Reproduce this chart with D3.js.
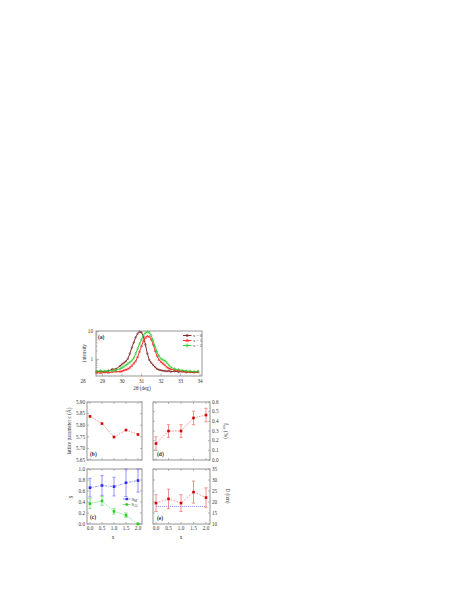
<!DOCTYPE html>
<html>
<head>
<meta charset="utf-8">
<script src="https://cdn.jsdelivr.net/npm/d3@7"></script>
<style>
  body { margin: 0; background: #fff; }
  text { font-family: "Liberation Serif", "DejaVu Serif", serif; fill: #333; }
</style>
</head>
<body>
<div id="viz_area"></div>
<script>
var width = 463
var height = 599

var svg = d3.select("#viz_area")
  .append("svg")
  .attr("width", width)
  .attr("height", height)
  .style("background-color", "white");

// ---- data ----
var twoTheta = [28.7, 28.9, 29.1, 29.3, 29.5, 29.7, 29.9,
  30.0, 30.1, 30.2, 30.3, 30.4, 30.5, 30.6, 30.7, 30.8, 30.9, 31.0, 31.1, 31.2,
  31.3, 31.4, 31.5, 31.6, 31.7, 31.8, 31.9, 32.0, 32.1, 32.2, 32.3, 32.4, 32.5,
  32.7, 32.9, 33.1, 33.3, 33.5, 33.7, 33.9]
var intX0 = [.36, .37, .36, .38, .44, .45, .58,
  .66, .75, .85, 1.05, 1.6, 2.6, 4.0, 6.2, 8.4, 9.9, 9.3, 6.6, 3.4,
  1.6, .95, .75, .62, .52, .45, .42, .40, .39, .38, .37, .38, .36,
  .37, .35, .36, .34, .35, .34, .35]
var intX1 = [.33, .32, .34, .33, .35, .36, .36,
  .37, .40, .42, .45, .50, .58, .70, .85, 1.2, 1.9, 3.0, 4.6, 6.0,
  6.8, 6.6, 5.2, 3.4, 2.0, 1.3, .95, .80, .70, .62, .52, .47, .44,
  .41, .39, .37, .36, .35, .34, .35]
var intX2 = [.37, .38, .37, .39, .38, .41, .46,
  .50, .55, .62, .70, .78, .88, 1.1, 1.6, 2.4, 3.6, 5.2, 7.4, 9.0,
  9.8, 9.3, 7.2, 4.6, 2.8, 1.8, 1.3, 1.05, .95, .88, .76, .62, .52,
  .45, .42, .40, .38, .37, .36, .37]
var seriesNames = ["x = 0", "x = 1", "x = 2"]

var xComp = [0, 0.5, 1.0, 1.5, 2.0]
var latticeC = [5.838, 5.807, 5.749, 5.779, 5.760]
var fSec = [0.17, 0.30, 0.30, 0.435, 0.465]
var fSecErr = [0.07, 0.065, 0.065, 0.07, 0.07]
var sM = [0.66, 0.70, 0.68, 0.75, 0.79]
var sMErr = [0.17, 0.18, 0.17, 0.25, 0.21]
var sAl = [0.37, 0.42, 0.23, 0.16, 0.0]
var sAlErr = [0.09, 0.08, 0.05, 0.04, 0.01]
var sizeD = [19.5, 21.4, 19.5, 24.5, 22.0]
var sizeDErr = [3.8, 4.4, 3.8, 5.0, 4.4]
var sizeRef = 18.0

var cTicks = [5.65, 5.70, 5.75, 5.80, 5.85, 5.90]
var fTicks = [0, 0.1, 0.2, 0.3, 0.4, 0.5, 0.6]
var sTicks = [0, 0.2, 0.4, 0.6, 0.8, 1.0]
var dTicks = [10, 15, 20, 25, 30, 35]
var thetaTicks = [28, 29, 30, 31, 32, 33, 34]

var axisCol = "#8a8a8a"
var red = "#d40000"
var lightRed = "#ee7777"

// ---- panel boxes ----
var pA = { x0: 96, x1: 202, y0: 331, y1: 376 }
var pB = { x0: 87, x1: 142, y0: 402, y1: 460 }
var pD = { x0: 153, x1: 210, y0: 402, y1: 460 }
var pC = { x0: 87, x1: 142, y0: 469, y1: 524 }
var pE = { x0: 153, x1: 210, y0: 469, y1: 524 }

var scXL = d3.scaleLinear().domain([0, 2]).range([90, 138])
var scXR = d3.scaleLinear().domain([0, 2]).range([156, 206])

function frame(p) {
  svg.append("rect")
    .attr("x", p.x0).attr("y", p.y0)
    .attr("width", p.x1 - p.x0).attr("height", p.y1 - p.y0)
    .attr("fill", "none").attr("stroke", axisCol).attr("stroke-width", 0.9)
}

function xTicks(p, sc, vals, len) {
  var g = svg.append("g").attr("stroke", axisCol).attr("stroke-width", 0.6)
  g.selectAll(".b").data(vals).enter().append("line")
    .attr("x1", d => sc(d)).attr("x2", d => sc(d))
    .attr("y1", p.y1).attr("y2", p.y1 - len)
  g.selectAll(".t").data(vals).enter().append("line")
    .attr("x1", d => sc(d)).attr("x2", d => sc(d))
    .attr("y1", p.y0).attr("y2", p.y0 + len)
}

function yTicks(p, sc, vals, len) {
  var g = svg.append("g").attr("stroke", axisCol).attr("stroke-width", 0.6)
  g.selectAll(".l").data(vals).enter().append("line")
    .attr("y1", d => sc(d)).attr("y2", d => sc(d))
    .attr("x1", p.x0).attr("x2", p.x0 + len)
  g.selectAll(".r").data(vals).enter().append("line")
    .attr("y1", d => sc(d)).attr("y2", d => sc(d))
    .attr("x1", p.x1).attr("x2", p.x1 - len)
}

function yLabels(sc, vals, x, anchor, fmt) {
  svg.append("g").selectAll("text").data(vals).enter().append("text")
    .attr("x", x).attr("y", d => sc(d)).attr("dy", "0.35em")
    .attr("text-anchor", anchor)
    .style("font-size", "5.2px")
    .text(fmt)
}

function xLabels(sc, vals, y, fmt) {
  svg.append("g").selectAll("text").data(vals).enter().append("text")
    .attr("x", d => sc(d)).attr("y", y)
    .attr("text-anchor", "middle")
    .style("font-size", "5.2px")
    .text(fmt)
}

function rotLabel(x, y, angle, txt) {
  return svg.append("text")
    .attr("transform", `translate(${x},${y}) rotate(${angle})`)
    .attr("text-anchor", "middle")
    .style("font-size", "5.2px")
    .text(txt)
}

function panelTag(x, y, txt) {
  svg.append("text").attr("x", x).attr("y", y)
    .style("font-size", "5.5px").style("font-weight", "bold")
    .text(txt)
}

function errorBars(sc, ys, vals, errs, col, clipTop) {
  var g = svg.append("g").attr("stroke", col).attr("stroke-width", 0.8)
  vals.forEach(function (v, i) {
    var x = sc(xComp[i])
    var top = ys(v + errs[i]), bot = ys(v - errs[i])
    if (clipTop !== undefined) top = Math.max(top, clipTop)
    g.append("line").attr("x1", x).attr("x2", x).attr("y1", top).attr("y2", bot)
    g.append("line").attr("x1", x - 1.6).attr("x2", x + 1.6).attr("y1", top).attr("y2", top)
    g.append("line").attr("x1", x - 1.6).attr("x2", x + 1.6).attr("y1", bot).attr("y2", bot)
  })
}

function dataLine(sc, ys, vals, col, dash) {
  svg.append("path")
    .datum(vals)
    .attr("fill", "none").attr("stroke", col).attr("stroke-width", 0.8)
    .attr("stroke-dasharray", dash)
    .attr("d", d3.line().x((d, i) => sc(xComp[i])).y(d => ys(d)))
}

function squares(sc, ys, vals, col, s) {
  svg.append("g").selectAll("rect").data(vals).enter().append("rect")
    .attr("x", (d, i) => sc(xComp[i]) - s / 2)
    .attr("y", d => ys(d) - s / 2)
    .attr("width", s).attr("height", s)
    .attr("fill", col)
}

// ---- panel (a) ----
function drawA() {
  var scX = d3.scaleLinear().domain([28, 34]).range([83, 200])
  var scY = d3.scaleLog().domain([0.25, 10.5]).range([pA.y1, pA.y0])
  frame(pA)
  var g = svg.append("g").attr("stroke", axisCol).attr("stroke-width", 0.6)
  g.selectAll(".xt").data(thetaTicks.filter(d => scX(d) > pA.x0 && scX(d) < pA.x1))
    .enter().append("line")
    .attr("x1", d => scX(d)).attr("x2", d => scX(d))
    .attr("y1", pA.y1).attr("y2", pA.y1 - 2.5)
  var minor = [0.3, 0.4, 0.5, 0.6, 0.7, 0.8, 0.9, 2, 3, 4, 5, 6, 7, 8, 9]
  g.selectAll(".ym").data(minor).enter().append("line")
    .attr("y1", d => scY(d)).attr("y2", d => scY(d))
    .attr("x1", pA.x0).attr("x2", pA.x0 + 1.5)
  g.selectAll(".yM").data([1, 10]).enter().append("line")
    .attr("y1", d => scY(d)).attr("y2", d => scY(d))
    .attr("x1", pA.x0).attr("x2", pA.x0 + 3)

  xLabels(scX, thetaTicks, 383, d => d)
  yLabels(scY, [1, 10], 93, "end", d => d)
  rotLabel(86, 353, -90, "intensity")
  svg.append("text").attr("x", 142).attr("y", 390).attr("text-anchor", "middle")
    .style("font-size", "5.2px").text("2θ (deg)")

  var cols = ["#7a1a1a", "#ff2020", "#22cc22"]
  var sets = [intX0, intX1, intX2]
  var line = d3.line().x((d, i) => scX(twoTheta[i])).y(d => scY(d))
  sets.forEach(function (s, k) {
    svg.append("path").datum(s)
      .attr("fill", "none").attr("stroke", cols[k]).attr("stroke-width", 0.9)
      .attr("d", line)
    var m = svg.append("g").attr("fill", "none").attr("stroke", cols[k]).attr("stroke-width", 0.5)
    m.selectAll("path").data(s).enter().append("path")
      .attr("transform", (d, i) => `translate(${scX(twoTheta[i])},${scY(d)})`)
      .attr("d", d3.symbol().type([d3.symbolCircle, d3.symbolTriangle, d3.symbolDiamond][k]).size(2.2))
  })
  // legend
  seriesNames.forEach(function (n, k) {
    var y = 335.5 + k * 5
    svg.append("line").attr("x1", 183).attr("x2", 191.5).attr("y1", y).attr("y2", y)
      .attr("stroke", cols[k]).attr("stroke-width", 0.9)
    svg.append("path").attr("transform", `translate(187.2,${y})`)
      .attr("d", d3.symbol().type([d3.symbolCircle, d3.symbolTriangle, d3.symbolDiamond][k]).size(4))
      .attr("fill", "none").attr("stroke", cols[k]).attr("stroke-width", 0.6)
    svg.append("text").attr("x", 193).attr("y", y).attr("dy", "0.35em")
      .style("font-size", "4.4px").text(n)
  })
  panelTag(98, 339, "(a)")
}

// ---- panel (b) ----
function drawB() {
  var scY = d3.scaleLinear().domain([5.65, 5.90]).range([pB.y1, pB.y0])
  frame(pB)
  xTicks(pB, scXL, xComp, 2)
  yTicks(pB, scY, cTicks, 2)
  yLabels(scY, cTicks, 85, "end", d => d.toFixed(2))
  rotLabel(71, 431, -90, "lattice parameter c (Å)")
  dataLine(scXL, scY, latticeC, lightRed, "1.5,1.2")
  squares(scXL, scY, latticeC, red, 2.6)
  panelTag(90, 456, "(b)")
}

// ---- panel (d) ----
function drawD() {
  var scY = d3.scaleLinear().domain([0, 0.6]).range([pD.y1, pD.y0])
  frame(pD)
  xTicks(pD, scXR, xComp, 2)
  yTicks(pD, scY, fTicks, 2)
  yLabels(scY, fTicks, 212, "start", d => d.toFixed(1))
  var t = svg.append("text")
    .attr("transform", `translate(224,431) rotate(90)`)
    .attr("text-anchor", "middle").style("font-size", "5.2px")
  t.append("tspan").text("f")
  t.append("tspan").attr("dy", "1.2").style("font-size", "3.8px").text("sec")
  t.append("tspan").attr("dy", "-1.2").text(" (%)")
  dataLine(scXR, scY, fSec, lightRed, "1.5,1.2")
  errorBars(scXR, scY, fSec, fSecErr, lightRed)
  squares(scXR, scY, fSec, red, 2.6)
  panelTag(157, 456, "(d)")
}

// ---- panel (c) ----
function drawC() {
  var scY = d3.scaleLinear().domain([0, 1]).range([pC.y1, pC.y0])
  frame(pC)
  xTicks(pC, scXL, xComp, 2)
  yTicks(pC, scY, sTicks, 2)
  yLabels(scY, sTicks, 85, "end", d => d.toFixed(1))
  xLabels(scXL, xComp, 530, d => d.toFixed(1))
  rotLabel(73, 497, -90, "S")
  svg.append("text").attr("x", 113).attr("y", 539).attr("text-anchor", "middle")
    .style("font-size", "5.2px").text("x")
  var blue = "#2a2aff", green = "#22cc22"
  dataLine(scXL, scY, sM, "#7a7aff", "2.4,1,0.6,1")
  errorBars(scXL, scY, sM, sMErr, "#7a7aff", pC.y0)
  squares(scXL, scY, sM, blue, 2.6)
  dataLine(scXL, scY, sAl, "#66dd66", "1.2,1")
  errorBars(scXL, scY, sAl, sAlErr, "#66dd66")
  squares(scXL, scY, sAl, green, 2.6)
  // legend
  var ents = [[blue, "#7a7aff", "M"], [green, "#66dd66", "Al"]]
  ents.forEach(function (e, k) {
    var y = 499 + k * 5.5
    svg.append("line").attr("x1", 123).attr("x2", 130.5).attr("y1", y).attr("y2", y)
      .attr("stroke", e[1]).attr("stroke-width", 0.8)
    svg.append("rect").attr("x", 125.5).attr("y", y - 1.2).attr("width", 2.4).attr("height", 2.4)
      .attr("fill", e[0])
    var t = svg.append("text").attr("x", 131.5).attr("y", y).attr("dy", "0.35em")
      .style("font-size", "4.6px")
    t.append("tspan").text("S")
    t.append("tspan").attr("dy", "1").style("font-size", "3.4px").text(e[2])
  })
  panelTag(90, 519, "(c)")
}

// ---- panel (e) ----
function drawE() {
  var scY = d3.scaleLinear().domain([10, 35]).range([pE.y1, pE.y0])
  frame(pE)
  xTicks(pE, scXR, xComp, 2)
  yTicks(pE, scY, dTicks, 2)
  yLabels(scY, dTicks, 212, "start", d => d)
  xLabels(scXR, xComp, 530, d => d.toFixed(1))
  rotLabel(226, 496, 90, "D (nm)")
  svg.append("text").attr("x", 181).attr("y", 539).attr("text-anchor", "middle")
    .style("font-size", "5.2px").text("x")
  svg.append("line")
    .attr("x1", scXR(0)).attr("x2", scXR(2))
    .attr("y1", scY(sizeRef)).attr("y2", scY(sizeRef))
    .attr("stroke", "#6a6aff").attr("stroke-width", 0.7).attr("stroke-dasharray", "1.2,0.8")
  dataLine(scXR, scY, sizeD, lightRed, "1.5,1.6")
  errorBars(scXR, scY, sizeD, sizeDErr, lightRed)
  squares(scXR, scY, sizeD, red, 2.6)
  panelTag(157, 520, "(e)")
}

drawA()
drawB()
drawD()
drawC()
drawE()
</script>
</body>
</html>
